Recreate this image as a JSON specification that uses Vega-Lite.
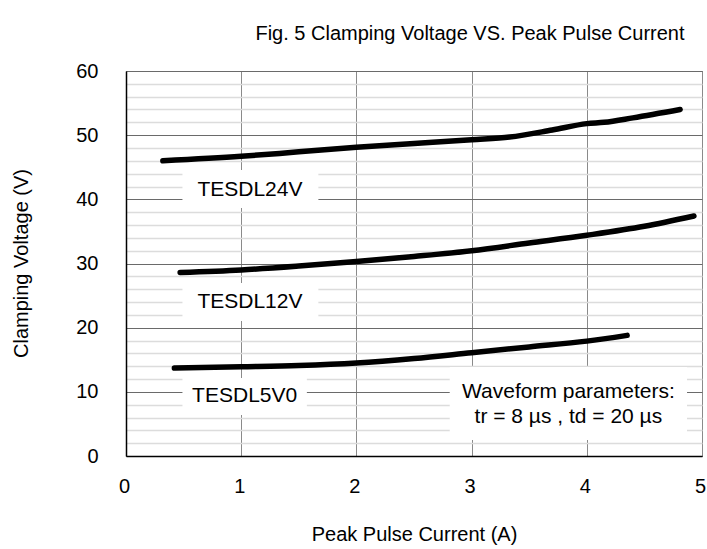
{
  "$schema": "https://vega.github.io/schema/vega-lite/v6.json",
  "width": 576,
  "height": 385,
  "autosize": "none",
  "padding": {"left": 126, "top": 71, "right": 5, "bottom": 93},
  "background": "white",
  "config": {
    "font": "Liberation Sans",
    "view": {"stroke": "#5a5a5a", "strokeWidth": 1}
  },
  "title": {
    "text": "Fig. 5 Clamping Voltage VS. Peak Pulse Current",
    "anchor": "middle",
    "frame": "group",
    "dx": 56,
    "offset": 1,
    "baseline": "alphabetic",
    "fontSize": 20,
    "fontWeight": "normal",
    "color": "black",
    "font": "Liberation Sans"
  },
  "datasets": {
    "curves": [
      {"device": "TESDL24V", "current": 0.32, "voltage": 46.0},
      {"device": "TESDL24V", "current": 1.0, "voltage": 46.7},
      {"device": "TESDL24V", "current": 1.5, "voltage": 47.4},
      {"device": "TESDL24V", "current": 2.0, "voltage": 48.1},
      {"device": "TESDL24V", "current": 2.5, "voltage": 48.7},
      {"device": "TESDL24V", "current": 3.0, "voltage": 49.3},
      {"device": "TESDL24V", "current": 3.33, "voltage": 49.7},
      {"device": "TESDL24V", "current": 3.7, "voltage": 50.8},
      {"device": "TESDL24V", "current": 4.0, "voltage": 51.8},
      {"device": "TESDL24V", "current": 4.15, "voltage": 52.0},
      {"device": "TESDL24V", "current": 4.4, "voltage": 52.7},
      {"device": "TESDL24V", "current": 4.81, "voltage": 54.0},
      {"device": "TESDL12V", "current": 0.47, "voltage": 28.6},
      {"device": "TESDL12V", "current": 1.0, "voltage": 29.0},
      {"device": "TESDL12V", "current": 1.5, "voltage": 29.6},
      {"device": "TESDL12V", "current": 2.0, "voltage": 30.3},
      {"device": "TESDL12V", "current": 2.5, "voltage": 31.1},
      {"device": "TESDL12V", "current": 3.0, "voltage": 32.0},
      {"device": "TESDL12V", "current": 3.5, "voltage": 33.2},
      {"device": "TESDL12V", "current": 4.0, "voltage": 34.4},
      {"device": "TESDL12V", "current": 4.5, "voltage": 35.8},
      {"device": "TESDL12V", "current": 4.93, "voltage": 37.4},
      {"device": "TESDL5V0", "current": 0.42, "voltage": 13.7},
      {"device": "TESDL5V0", "current": 1.0, "voltage": 13.9},
      {"device": "TESDL5V0", "current": 1.5, "voltage": 14.1},
      {"device": "TESDL5V0", "current": 2.0, "voltage": 14.5},
      {"device": "TESDL5V0", "current": 2.5, "voltage": 15.2},
      {"device": "TESDL5V0", "current": 3.0, "voltage": 16.1},
      {"device": "TESDL5V0", "current": 3.5, "voltage": 17.0},
      {"device": "TESDL5V0", "current": 4.0, "voltage": 17.9},
      {"device": "TESDL5V0", "current": 4.35, "voltage": 18.8}
    ],
    "boxes": [
      {"name": "TESDL24V", "current": 0.49, "current2": 1.67, "voltage": 38.65, "voltage2": 44.57},
      {"name": "TESDL12V", "current": 0.49, "current2": 1.67, "voltage": 21.04, "voltage2": 26.96},
      {"name": "TESDL5V0", "current": 0.49, "current2": 1.57, "voltage": 6.39, "voltage2": 12.16},
      {"name": "Waveform", "current": 2.81, "current2": 4.87, "voltage": 2.49, "voltage2": 13.87}
    ],
    "labels": [
      {"text": "TESDL24V", "current": 1.076, "voltage": 41.45},
      {"text": "TESDL12V", "current": 1.076, "voltage": 24.0},
      {"text": "TESDL5V0", "current": 1.03, "voltage": 9.35},
      {"text": "Waveform parameters:", "current": 3.84, "voltage": 9.97},
      {"text": "tr = 8 µs , td = 20 µs", "current": 3.84, "voltage": 6.07}
    ]
  },
  "encoding": {
    "x": {
      "field": "current", "type": "quantitative",
      "scale": {"domain": [0, 5], "nice": false, "zero": false},
      "axis": {
        "title": "Peak Pulse Current (A)",
        "values": [0, 1, 2, 3, 4, 5],
        "format": "d",
        "ticks": false,
        "labelPadding": 36,
        "labelBaseline": "alphabetic",
        "labelOffset": -2,
        "labelFontSize": 20,
        "labelColor": "black",
        "labelFlush": false,
        "domainColor": "black",
        "domainWidth": 1.5,
        "grid": true,
        "gridColor": "#8a8a8a",
        "gridWidth": 1,
        "titleFontSize": 20,
        "titleFontWeight": "normal",
        "titleColor": "black",
        "titleX": 288,
        "titleY": 84,
        "titleBaseline": "alphabetic",
        "titleAlign": "center"
      }
    },
    "y": {
      "field": "voltage", "type": "quantitative",
      "scale": {"domain": [0, 60], "nice": false, "zero": false},
      "axis": {
        "title": "Clamping Voltage (V)",
        "values": [0, 2, 4, 6, 8, 10, 12, 14, 16, 18, 20, 22, 24, 26, 28, 30, 32, 34, 36, 38, 40, 42, 44, 46, 48, 50, 52, 54, 56, 58, 60],
        "labelExpr": "datum.value % 10 === 0 ? datum.label : ''",
        "ticks": false,
        "labelPadding": 28,
        "labelFontSize": 20,
        "labelColor": "black",
        "labelFlush": false,
        "labelOverlap": false,
        "domainColor": "black",
        "domainWidth": 1.5,
        "grid": true,
        "gridColor": {"condition": {"test": "datum.value % 10 === 0", "value": "#6a6a6a"}, "value": "#dcdcdc"},
        "gridWidth": {"condition": {"test": "datum.value % 10 === 0", "value": 1}, "value": 1.5},
        "titleFontSize": 20,
        "titleFontWeight": "normal",
        "titleColor": "black",
        "titleX": -99,
        "titleY": 192,
        "titleAngle": -90,
        "titleBaseline": "alphabetic",
        "titleAlign": "center"
      }
    }
  },
  "layer": [
    {
      "data": {"name": "boxes"},
      "mark": {"type": "rect", "fill": "white"},
      "encoding": {
        "x2": {"field": "current2"},
        "y2": {"field": "voltage2"}
      }
    },
    {
      "data": {"name": "labels"},
      "mark": {"type": "text", "fontSize": 21, "color": "black", "align": "center", "baseline": "middle"},
      "encoding": {
        "text": {"field": "text"}
      }
    },
    {
      "data": {"name": "curves"},
      "mark": {"type": "line", "color": "black", "strokeWidth": 5.5, "strokeCap": "round", "strokeJoin": "round", "interpolate": "monotone"},
      "encoding": {
        "detail": {"field": "device"}
      }
    }
  ]
}
